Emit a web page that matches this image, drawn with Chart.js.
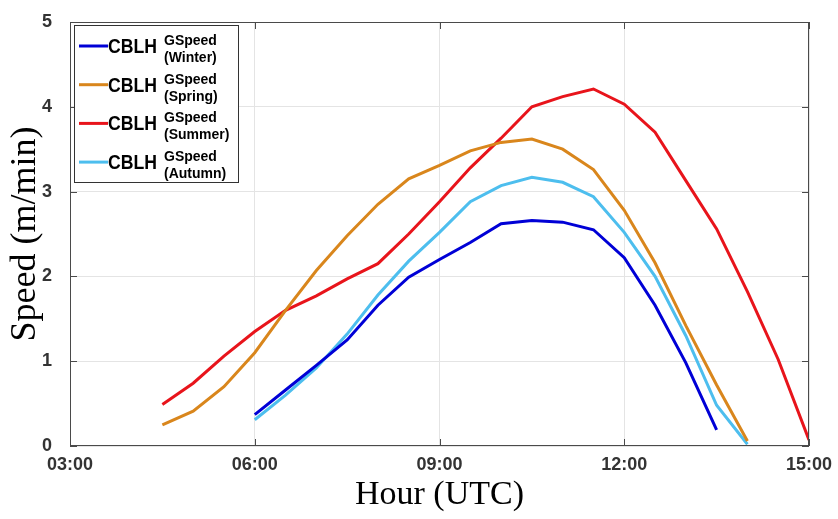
<!DOCTYPE html>
<html>
<head>
<meta charset="utf-8">
<script src="https://cdn.jsdelivr.net/npm/chart.js@4/dist/chart.umd.min.js"></script>
<style>
  html, body { margin: 0; padding: 0; background: #fff; }
  #wrap { width: 838px; height: 519px; }
</style>
</head>
<body>
<div id="wrap"><canvas id="speedChart" width="838" height="519"></canvas></div>
<script>
// Data (hour of day, speed in m/min)

let seasons = ['Winter', 'Spring', 'Summer', 'Autumn'];
let seasonColors = ['#0000D6', '#D9861C', '#E8141B', '#4DBEEE'];

let winterHours = [6, 6.5, 7, 7.5, 8, 8.5, 9, 9.5, 10, 10.5, 11, 11.5, 12, 12.5, 13, 13.5];
let winterSpeed = [0.37, 0.66, 0.95, 1.25, 1.66, 1.99, 2.20, 2.40, 2.62, 2.66, 2.64, 2.55, 2.22, 1.66, 0.98, 0.19];

let springHours = [4.5, 5, 5.5, 6, 6.5, 7, 7.5, 8, 8.5, 9, 9.5, 10, 10.5, 11, 11.5, 12, 12.5, 13, 13.5, 14];
let springSpeed = [0.25, 0.41, 0.70, 1.10, 1.60, 2.07, 2.48, 2.85, 3.15, 3.31, 3.48, 3.58, 3.62, 3.50, 3.26, 2.78, 2.16, 1.42, 0.72, 0.06];

let summerHours = [4.5, 5, 5.5, 6, 6.5, 7, 7.5, 8, 8.5, 9, 9.5, 10, 10.5, 11, 11.5, 12, 12.5, 13, 13.5, 14, 14.5, 15];
let summerSpeed = [0.49, 0.74, 1.06, 1.35, 1.60, 1.77, 1.97, 2.15, 2.50, 2.88, 3.28, 3.63, 4.00, 4.12, 4.21, 4.03, 3.70, 3.13, 2.56, 1.82, 1.02, 0.07];

let autumnHours = [6, 6.5, 7, 7.5, 8, 8.5, 9, 9.5, 10, 10.5, 11, 11.5, 12, 12.5, 13, 13.5, 14];
let autumnSpeed = [0.31, 0.60, 0.92, 1.32, 1.78, 2.18, 2.52, 2.88, 3.07, 3.17, 3.11, 2.94, 2.52, 2.00, 1.30, 0.48, 0.02];

let xTicks = [3, 6, 9, 12, 15];
let yTicks = [0, 1, 2, 3, 4, 5];

let allHours = [winterHours, springHours, summerHours, autumnHours];
let allSpeed = [winterSpeed, springSpeed, summerSpeed, autumnSpeed];

function toPoints(hours, speed) {
  return hours.map((h, i) => ({ x: h, y: speed[i] }));
}

function hourLabel(v) {
  return String(v).padStart(2, '0') + ':00';
}

let datasets = seasons.map((s, i) => ({
  label: 'CBLH',
  season: s,
  data: toPoints(allHours[i], allSpeed[i]),
  borderColor: seasonColors[i],
  backgroundColor: seasonColors[i],
  borderWidth: 3,
  pointRadius: 0,
  tension: 0,
  fill: false,
}));

// box round the axes, inward ticks, and the legend (MATLAB style)
let boxPlugin = {
  id: 'boxPlugin',
  afterDraw(chart) {
    let ctx = chart.ctx;
    let a = chart.chartArea;
    let xs = chart.scales.x;
    let ys = chart.scales.y;
    ctx.save();
    ctx.strokeStyle = '#4a4a4a';
    ctx.lineWidth = 1;
    ctx.strokeRect(a.left + 0.5, a.top + 0.5, a.right - a.left - 1, a.bottom - a.top - 1);
    ctx.beginPath();
    xTicks.forEach((t) => {
      let px = Math.round(xs.getPixelForValue(t)) + 0.5;
      ctx.moveTo(px, a.bottom); ctx.lineTo(px, a.bottom - 7);
      ctx.moveTo(px, a.top); ctx.lineTo(px, a.top + 7);
    });
    yTicks.forEach((t) => {
      let py = Math.round(ys.getPixelForValue(t)) + 0.5;
      ctx.moveTo(a.left, py); ctx.lineTo(a.left + 7, py);
      ctx.moveTo(a.right, py); ctx.lineTo(a.right - 7, py);
    });
    ctx.stroke();

    // legend
    let lx = a.left + 4, ly = a.top + 3, lw = 164, lh = 157;
    ctx.fillStyle = '#fff';
    ctx.fillRect(lx, ly, lw, lh);
    ctx.strokeStyle = '#333';
    ctx.strokeRect(lx + 0.5, ly + 0.5, lw, lh);
    chart.data.datasets.forEach((ds, i) => {
      let cy = ly + 21 + i * 38.7;
      ctx.strokeStyle = ds.borderColor;
      ctx.lineWidth = 3;
      ctx.beginPath();
      ctx.moveTo(lx + 5, cy); ctx.lineTo(lx + 34, cy);
      ctx.stroke();
      ctx.fillStyle = '#000';
      ctx.textBaseline = 'alphabetic';
      ctx.textAlign = 'left';
      ctx.font = 'bold 21px "Liberation Sans", Arial, sans-serif';
      let w = ctx.measureText(ds.label).width;
      ctx.save();
      ctx.translate(lx + 34, cy + 7);
      ctx.scale(49 / w, 1);
      ctx.fillText(ds.label, 0, 0);
      ctx.restore();
      ctx.font = 'bold 14px "Liberation Sans", Arial, sans-serif';
      ctx.fillText('GSpeed', lx + 90, cy - 1);
      ctx.fillText('(' + ds.season + ')', lx + 90, cy + 16);
    });
    ctx.restore();
  },
};

let ctx = document.getElementById('speedChart').getContext('2d');
let speedChart = new Chart(ctx, {
  type: 'line',
  data: { datasets: datasets },
  plugins: [boxPlugin],
  options: {
    responsive: false,
    animation: false,
    layout: { padding: { left: 0, right: 29, top: 22, bottom: 0 } },
    plugins: {
      legend: { display: false },
      tooltip: { enabled: false },
    },
    scales: {
      x: {
        type: 'linear',
        min: 3,
        max: 15,
        afterBuildTicks: (scale) => {
          scale.ticks = xTicks.map((v) => ({ value: v }));
        },
        afterFit: (scale) => {
          scale.height = 73;
          scale.paddingLeft = 0;
          scale.paddingRight = 0;
        },
        ticks: {
          callback: (v) => hourLabel(v),
          color: '#333',
          font: { family: '"Liberation Sans", Arial, sans-serif', size: 18, weight: 'bold' },
          padding: 8,
          maxRotation: 0,
        },
        grid: { color: '#e4e4e4', drawTicks: false },
        border: { display: false },
        title: {
          display: true,
          text: 'Hour (UTC)',
          color: '#000',
          font: { family: '"Liberation Serif", "Times New Roman", serif', size: 34 },
          padding: { top: 0, bottom: 4 },
        },
      },
      y: {
        min: 0,
        max: 5,
        afterBuildTicks: (scale) => {
          scale.ticks = yTicks.map((v) => ({ value: v }));
        },
        afterFit: (scale) => {
          scale.width = 70;
          scale.paddingTop = 0;
          scale.paddingBottom = 0;
        },
        ticks: {
          color: '#333',
          font: { family: '"Liberation Sans", Arial, sans-serif', size: 18, weight: 'bold' },
          padding: 18,
        },
        grid: { color: '#e4e4e4', drawTicks: false },
        border: { display: false },
        title: {
          display: true,
          text: 'Speed (m/min)',
          color: '#000',
          font: { family: '"Liberation Serif", "Times New Roman", serif', size: 36 },
          padding: { top: 4, bottom: 0 },
        },
      },
    },
  },
});
</script>
</body>
</html>
